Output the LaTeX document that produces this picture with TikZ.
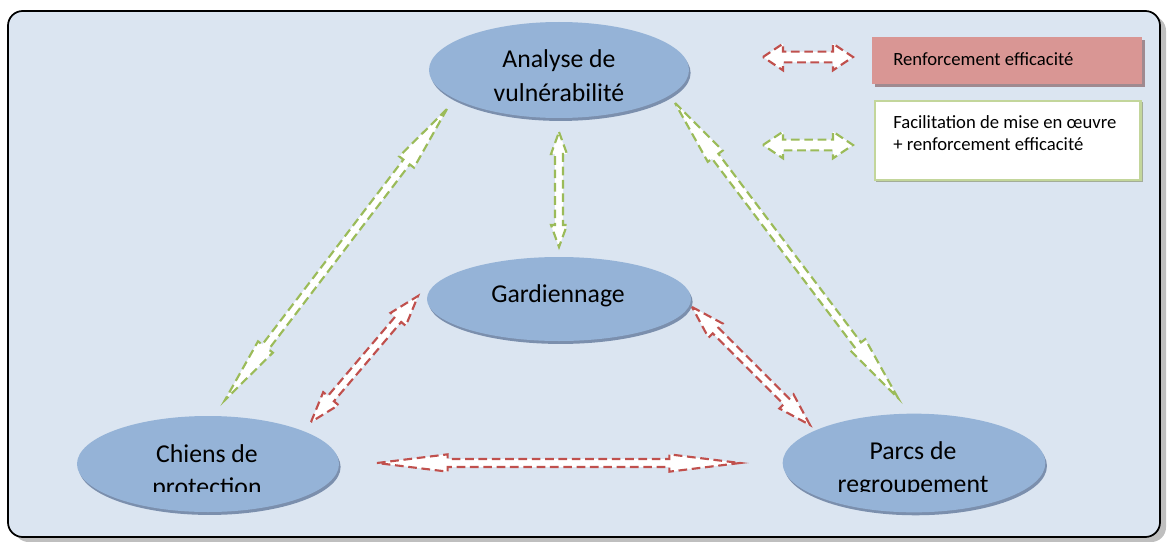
\documentclass[tikz,border=0pt]{standalone}
\usepackage{fontspec}
\setmainfont{Carlito}
\usetikzlibrary{calc,shapes.geometric,shadows}
\definecolor{bg}{HTML}{DBE5F1}
\definecolor{ell}{HTML}{95B3D7}
\definecolor{ellsh}{HTML}{7B8FAD}
\definecolor{redc}{HTML}{C0504D}
\definecolor{greenc}{HTML}{9BBB59}
\definecolor{legred}{HTML}{D99694}
\definecolor{legredsh}{HTML}{A08A90}
\definecolor{leggreen}{HTML}{C3D69B}
\definecolor{leggreensh}{HTML}{A3AD98}
\definecolor{framesh}{HTML}{BFBFBF}
\newcommand\blockarrow[6]{%
  \path coordinate (ba-p) at ($(#2)!#4!(#3)$) coordinate (ba-q) at ($(#3)!#4!(#2)$);
  \draw[#1] (#2) -- ($(ba-p)!#5!90:(#3)$) -- ($(ba-p)!#6!90:(#3)$)
    -- ($(ba-q)!#6!-90:(#2)$) -- ($(ba-q)!#5!-90:(#2)$) -- (#3)
    -- ($(ba-q)!#5!90:(#2)$) -- ($(ba-q)!#6!90:(#2)$)
    -- ($(ba-p)!#6!-90:(#3)$) -- ($(ba-p)!#5!-90:(#3)$) -- cycle;
}
\tikzset{
  ellnode/.style={ellipse, fill=ell, inner sep=0pt,
    drop shadow={shadow xshift=1.2pt, shadow yshift=-2.2pt, fill=ellsh, opacity=1}},
  etext/.style={font=\fontsize{19.3}{23}\selectfont, inner sep=0pt, anchor=base},
  ltext/.style={font=\fontsize{14}{17}\selectfont, inner sep=0pt, anchor=base west},
  redarrow/.style={fill=white, draw=redc, line width=1.6pt, dash pattern=on 6.5pt off 3.5pt, line join=miter},
  greenarrow/.style={fill=white, draw=greenc, line width=1.6pt, dash pattern=on 6.5pt off 3.5pt, line join=miter},
}
\begin{document}
\begin{tikzpicture}[x=0.75pt,y=-0.75pt]
\useasboundingbox (0,0) rectangle (1167,542);
% frame
\fill[framesh, rounded corners=11pt] (14,16) rectangle (1166,542);
\draw[fill=bg, line width=1.3pt, rounded corners=11pt] (8,11) rectangle (1160,537);
% legend
\fill[legredsh] (875,40) rectangle (1145,87);
\node[fill=legred, minimum width=202.5pt, minimum height=35.25pt, inner sep=0pt, anchor=north west] (lr) at (872,37) {};
\fill[leggreensh] (876,102) rectangle (1143,182);
\node[fill=white, draw=leggreen, line width=1.8pt, minimum width=199pt, minimum height=59pt, inner sep=0pt, anchor=north west] (lg) at (874,100) {};
\node[ltext] (lrt) at (893,66) {Renforcement efficacité};
\node[ltext] (lgt1) at (893,128) {Facilitation de mise en œuvre};
\node[ltext] (lgt2) at (893,150) {+ renforcement efficacité};
% ellipses
\node[ellnode, minimum width=195pt, minimum height=72pt] (ana) at (559,70) {};
\node[ellnode, minimum width=198pt, minimum height=63pt] (gar) at (559,299) {};
\node[ellnode, minimum width=196.5pt, minimum height=72pt] (chi) at (208,464) {};
\node[ellnode, minimum width=197pt, minimum height=74pt] (par) at (914,463) {};
% texts
\node[etext] (anat1) at (559,68) {Analyse de};
\node[etext] (anat2) at (559,101) {vulnérabilité};
\node[etext] (gart) at (558,302) {Gardiennage};
\node[etext] (chit1) at (207,462) {Chiens de};
\node[etext] (part1) at (913,459) {Parcs de};
\begin{scope}
\clip (0,0) rectangle (1167,491.5);
\node[etext] (chit2) at (207,495) {protection};
\node[etext] (part2) at (913,492) {regroupement};
\end{scope}
% arrow end points
\coordinate (ga1) at (559,132); \coordinate (ga2) at (559,247);
\coordinate (gl1) at (447,109); \coordinate (gl2) at (225,400);
\coordinate (gr1) at (675,103); \coordinate (gr2) at (898,398);
\coordinate (rl1) at (311,422); \coordinate (rl2) at (418,296);
\coordinate (rr1) at (692,307); \coordinate (rr2) at (810,425);
\coordinate (rh1) at (377,463); \coordinate (rh2) at (740,463);
\coordinate (lr1) at (763,57); \coordinate (lr2) at (853,57);
\coordinate (lg1) at (763,145); \coordinate (lg2) at (853,145);
% arrows
\blockarrow{greenarrow}{ga1}{ga2}{16.5pt}{6pt}{3pt}
\blockarrow{greenarrow}{gl1}{gl2}{50pt}{7pt}{3pt}
\blockarrow{greenarrow}{gr1}{gr2}{50pt}{7pt}{3pt}
\blockarrow{redarrow}{rl1}{rl2}{23pt}{7.5pt}{3pt}
\blockarrow{redarrow}{rr1}{rr2}{25pt}{7.5pt}{3pt}
\blockarrow{redarrow}{rh1}{rh2}{53pt}{6.5pt}{3pt}
\blockarrow{redarrow}{lr1}{lr2}{15pt}{10pt}{4pt}
\blockarrow{greenarrow}{lg1}{lg2}{15pt}{10pt}{4pt}
\end{tikzpicture}
\end{document}
